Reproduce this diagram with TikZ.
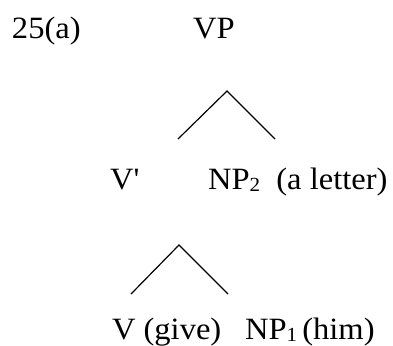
\documentclass[tikz,border=0pt]{standalone}
\usepackage{fontspec}
\setmainfont[FakeStretch=1.05]{Liberation Serif}
\newcommand{\sub}[1]{{\fontsize{20}{20}\selectfont\raisebox{-2pt}{#1}}}
\begin{document}
\begin{tikzpicture}[x=1pt,y=-1pt,
  lab/.style={anchor=base west,inner sep=0pt,outer sep=0pt,
    font=\fontsize{31}{36}\selectfont},
  branch/.style={line width=1.2pt}]
\useasboundingbox (0,0) rectangle (393,345);
% labels
\node[lab] (ex)  at (12,38)  {25(a)};
\node[lab] (vp)  at (193,38) {VP};
\node[lab] (vbar) at (110,189) {V\textquotesingle};
\node[lab] (np2) at (208,189) {NP\sub{2}\ \ (a letter)};
\node[lab] (v)   at (112,339) {V (give)};
\node[lab] (np1) at (245,339) {NP\sub{1}\,(him)};
% branch points of the upper fork
\coordinate (topA) at (227,91);
\coordinate (leftA) at (178,139);
\coordinate (rightA) at (275,139);
% branch points of the lower fork
\coordinate (topB) at (179,245);
\coordinate (leftB) at (131,294);
\coordinate (rightB) at (228,294);
\draw[branch] (leftA) -- (topA) -- (rightA);
\draw[branch] (leftB) -- (topB) -- (rightB);
\end{tikzpicture}
\end{document}
